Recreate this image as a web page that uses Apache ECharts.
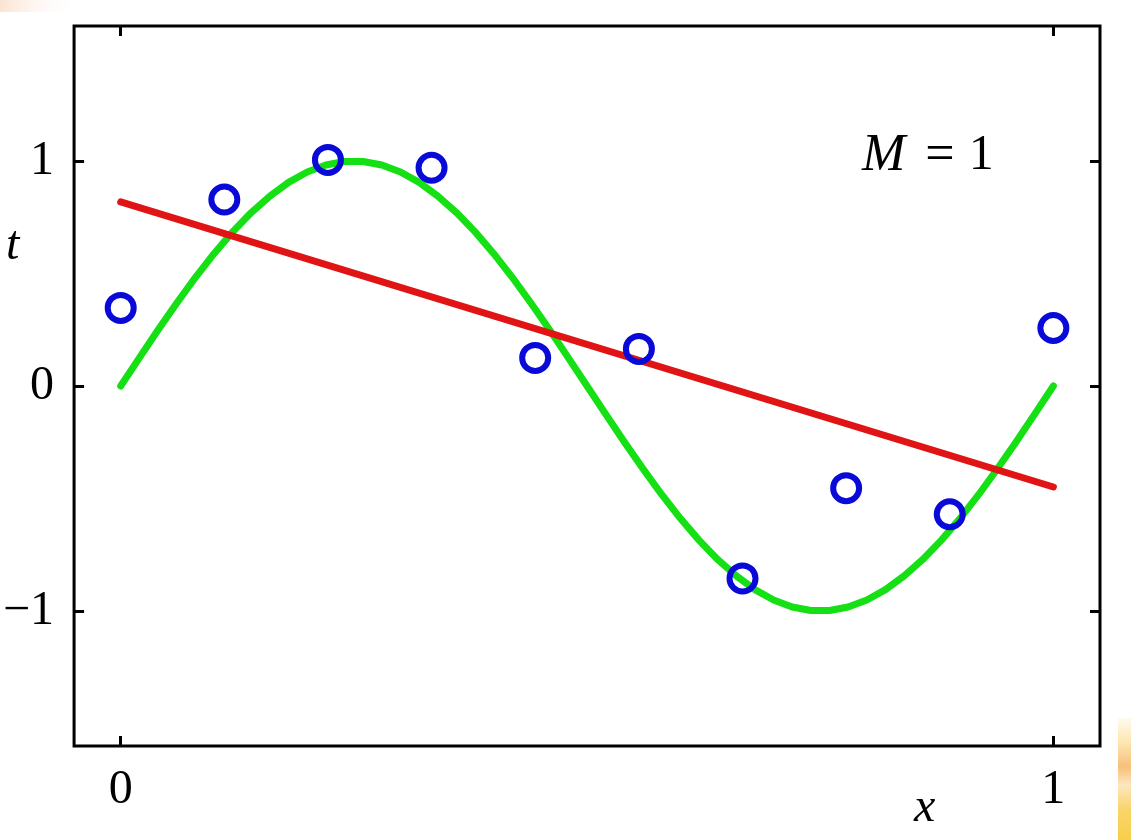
<!DOCTYPE html>
<html>
<head>
<meta charset="utf-8">
<script src="https://cdn.jsdelivr.net/npm/echarts@6/dist/echarts.min.js"></script>
<style>
  html, body { margin: 0; padding: 0; background: #ffffff; }
  #chart { width: 1131px; height: 840px; }
</style>
</head>
<body>
<div id="chart"></div>
<script>
// Observed data points (x, t)
const pointX = [0, 0.1111, 0.2222, 0.3333, 0.4444, 0.5556, 0.6667, 0.7778, 0.8889, 1];
const pointT = [0.347, 0.829, 1.005, 0.970, 0.125, 0.165, -0.855, -0.454, -0.570, 0.258];

const curveX = [0, 0.02, 0.04, 0.06, 0.08, 0.1, 0.12, 0.14, 0.16, 0.18, 0.2, 0.22, 0.24, 0.26, 0.28, 0.3,
  0.32, 0.34, 0.36, 0.38, 0.4, 0.42, 0.44, 0.46, 0.48, 0.5, 0.52, 0.54, 0.56, 0.58, 0.6, 0.62, 0.64, 0.66,
  0.68, 0.7, 0.72, 0.74, 0.76, 0.78, 0.8, 0.82, 0.84, 0.86, 0.88, 0.9, 0.92, 0.94, 0.96, 0.98, 1];
const curveT = [0, 0.125, 0.249, 0.368, 0.482, 0.588, 0.685, 0.771, 0.844, 0.905, 0.951, 0.982, 0.998,
  0.998, 0.982, 0.951, 0.905, 0.844, 0.771, 0.685, 0.588, 0.482, 0.368, 0.249, 0.125, 0,
  -0.125, -0.249, -0.368, -0.482, -0.588, -0.685, -0.771, -0.844, -0.905, -0.951, -0.982, -0.998,
  -0.998, -0.982, -0.951, -0.905, -0.844, -0.771, -0.685, -0.588, -0.482, -0.368, -0.249, -0.125, 0];

// Fitted line (M = 1) endpoints
const fitX = [0, 1];
const fitT = [0.818, -0.449];

// Tick values and labels
const xTicks = [0, 1];
const xTickLabels = ['0', '1'];
const yTicks = [-1, 0, 1];
const yTickLabels = ['\u22121', '0', '1'];

const serif = '"Liberation Serif", "DejaVu Serif", serif';

const zip = (a, b) => a.map((v, i) => [v, b[i]]);

const chart = echarts.init(document.getElementById('chart'), null, { renderer: 'canvas' });

const tickStyle = { show: true, inside: true, length: 10, lineStyle: { color: '#000', width: 3 } };
const noLine = { show: false, onZero: false };

chart.setOption({
  animation: false,
  backgroundColor: '#ffffff',
  grid: {
    left: 73, top: 26, width: 1027, height: 720,
    show: true, borderColor: '#000', borderWidth: 3, backgroundColor: 'transparent'
  },
  xAxis: [
    {
      type: 'value', min: -0.05, max: 1.05, position: 'bottom',
      axisLine: noLine,
      splitLine: { show: false },
      axisTick: Object.assign({ customValues: xTicks }, tickStyle),
      axisLabel: {
        customValues: xTicks,
        formatter: v => xTickLabels[xTicks.indexOf(v)],
        fontFamily: serif, fontSize: 48, color: '#000', margin: 20
      }
    },
    {
      type: 'value', min: -0.05, max: 1.05, position: 'top',
      axisLine: noLine, splitLine: { show: false },
      axisTick: Object.assign({ customValues: xTicks }, tickStyle),
      axisLabel: { show: false }
    }
  ],
  yAxis: [
    {
      type: 'value', min: -1.6, max: 1.6, position: 'left',
      axisLine: noLine, splitLine: { show: false },
      axisTick: Object.assign({ customValues: yTicks }, tickStyle),
      axisLabel: {
        customValues: yTicks,
        formatter: v => yTickLabels[yTicks.indexOf(v)],
        fontFamily: serif, fontSize: 48, color: '#000', margin: 20
      }
    },
    {
      type: 'value', min: -1.6, max: 1.6, position: 'right',
      axisLine: noLine, splitLine: { show: false },
      axisTick: Object.assign({ customValues: yTicks }, tickStyle),
      axisLabel: { show: false }
    }
  ],
  series: [
    {
      type: 'line', data: zip(curveX, curveT), smooth: false, showSymbol: false,
      lineStyle: { color: '#14e014', width: 7, cap: 'round', join: 'round' }, z: 2, silent: true
    },
    {
      type: 'line', data: zip(fitX, fitT), showSymbol: false,
      lineStyle: { color: '#e01414', width: 7, cap: 'round' }, z: 3, silent: true
    },
    {
      type: 'scatter', data: zip(pointX, pointT), symbol: 'circle', symbolSize: 26,
      itemStyle: { color: 'rgba(0,0,0,0)', borderColor: '#0a0ad8', borderWidth: 6, opacity: 1 },
      z: 4, silent: true
    }
  ],
  graphic: [
    {
      type: 'rect', shape: { x: 1118, y: 718, width: 13, height: 122 }, silent: true, z: -1,
      style: {
        fill: new echarts.graphic.LinearGradient(0, 0, 0, 1, [
          { offset: 0, color: '#fffaf0' },
          { offset: 0.2, color: '#fde7b0' },
          { offset: 0.4, color: '#f6c07a' },
          { offset: 0.55, color: '#fbe7c0' },
          { offset: 0.75, color: '#f9d46a' },
          { offset: 1, color: '#f8cf4a' }
        ])
      }
    },
    {
      type: 'rect', shape: { x: 0, y: 0, width: 80, height: 12 }, silent: true, z: -1,
      style: {
        fill: new echarts.graphic.LinearGradient(0, 0, 1, 0, [
          { offset: 0, color: '#fbe3d2' },
          { offset: 1, color: 'rgba(255,255,255,0)' }
        ])
      }
    },
    {
      type: 'text', left: 6, top: 222, silent: true,
      style: { text: 't', font: 'italic 48px ' + serif, fill: '#000' }
    },
    {
      type: 'text', left: 914, top: 784, silent: true,
      style: { text: 'x', font: 'italic 48px ' + serif, fill: '#000' }
    },
    {
      type: 'text', left: 862, top: 130, silent: true,
      style: {
        text: '{i|M}{n|=}{o|1}',
        rich: {
          i: { fontFamily: serif, fontStyle: 'italic', fontSize: 52, fill: '#000', padding: [0, 20, 0, 0] },
          n: { fontFamily: serif, fontSize: 52, fill: '#000', padding: [0, 14, 0, 0] },
          o: { fontFamily: serif, fontSize: 50, fill: '#000' }
        }
      }
    }
  ]
});
</script>
</body>
</html>
